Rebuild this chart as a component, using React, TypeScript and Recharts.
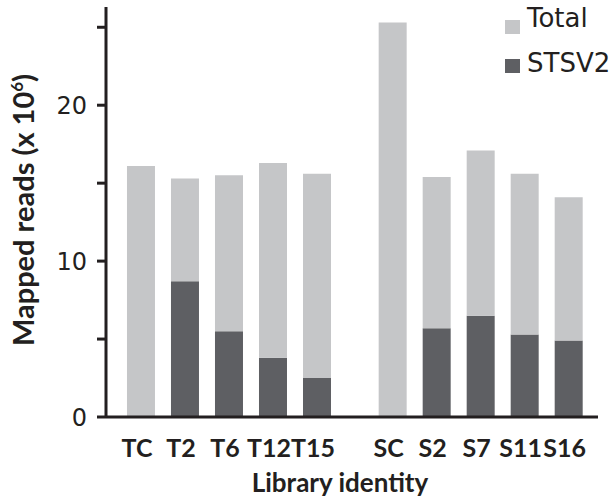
import { BarChart, Bar, XAxis, YAxis } from "recharts";

const LIGHT = "#c5c6c8";
const DARK = "#5e5f63";
const AXIS = "#231f20";

const categories = ["TC", "T2", "T6", "T12", "T15", "SC", "S2", "S7", "S11", "S16"];
const totalReads = [16.1, 15.3, 15.5, 16.3, 15.6, 25.3, 15.4, 17.1, 15.6, 14.1];
const stsv2Reads = [0, 8.7, 5.5, 3.8, 2.5, 0, 5.7, 6.5, 5.3, 4.9];
const yTicks = [0, 5, 10, 15, 20, 25];

// the S libraries sit a bit further right than the T libraries
const GROUP_GAP = 0.72;

const data = categories.map((name, i) => ({
  name,
  pos: i + (name.startsWith("S") ? GROUP_GAP : 0),
  stsv2: stsv2Reads[i],
  rest: totalReads[i] - stsv2Reads[i],
}));
const positions = data.map((d) => d.pos);

function YLabel() {
  return (
    <text
      transform="translate(34,210) rotate(-90)"
      x={0}
      y={0}
      textAnchor="middle"
      fontFamily="Lato"
      fontWeight={700}
      fontSize={29}
      fill={AXIS}
    >
      Mapped reads (x 10
      <tspan dy={-11} fontSize={17}>6</tspan>
      <tspan dy={11}>)</tspan>
    </text>
  );
}

function XLabel() {
  return (
    <text
      x={340}
      y={492}
      textAnchor="middle"
      fontFamily="Lato"
      fontWeight={700}
      fontSize={26}
      fill={AXIS}
    >
      Library identity
    </text>
  );
}

function XTick({ x, y, index }: { x?: number; y?: number; index?: number }) {
  return (
    <text
      x={(x ?? 0) - 4}
      y={y}
      dy="0.71em"
      textAnchor="middle"
      fontFamily="Lato"
      fontWeight={700}
      fontSize={25}
      fill={AXIS}
    >
      {categories[index ?? 0]}
    </text>
  );
}

function LegendBox() {
  return (
    <svg width={114} height={80} style={{ position: "absolute", left: 500, top: 0 }}>
      <rect x={5} y={20} width={15} height={14} fill={LIGHT} />
      <text x={27} y={27} fontFamily="DejaVu Sans" fontSize={26} fill={AXIS}>
        Total
      </text>
      <rect x={5} y={59} width={15} height={14} fill={DARK} />
      <text x={27} y={72} fontFamily="DejaVu Sans" fontSize={26} fill={AXIS}>
        STSV2
      </text>
    </svg>
  );
}

export default function App() {
  return (
    <div style={{ position: "absolute", left: 0, top: 0, width: 614, height: 503, background: "#fff" }}>
      <BarChart
        width={614}
        height={503}
        data={data}
        margin={{ top: 7, right: 16, bottom: 36, left: 36 }}
      >
        <XAxis
          type="number"
          dataKey="pos"
          domain={[-0.795, 10.386]}
          ticks={positions}
          interval={0}
          tickLine={false}
          tickSize={0}
          tickMargin={22}
          axisLine={{ stroke: AXIS, strokeWidth: 3 }}
          tick={<XTick />}
          height={50}
          label={<XLabel />}
        />
        <YAxis
          type="number"
          domain={[0, 26.3]}
          ticks={yTicks}
          interval={0}
          tickFormatter={(v: number) => (v % 10 === 0 ? String(v) : "")}
          tickSize={9}
          tickMargin={10}
          width={70}
          axisLine={{ stroke: AXIS, strokeWidth: 3 }}
          tickLine={{ stroke: AXIS, strokeWidth: 3 }}
          tick={{ fontFamily: "DejaVu Sans", fontSize: 24, fill: AXIS }}
          label={<YLabel />}
        />
        <Bar dataKey="stsv2" stackId="a" fill={DARK} barSize={28} isAnimationActive={false} />
        <Bar dataKey="rest" stackId="a" fill={LIGHT} barSize={28} isAnimationActive={false} />
      </BarChart>
      <LegendBox />
    </div>
  );
}
